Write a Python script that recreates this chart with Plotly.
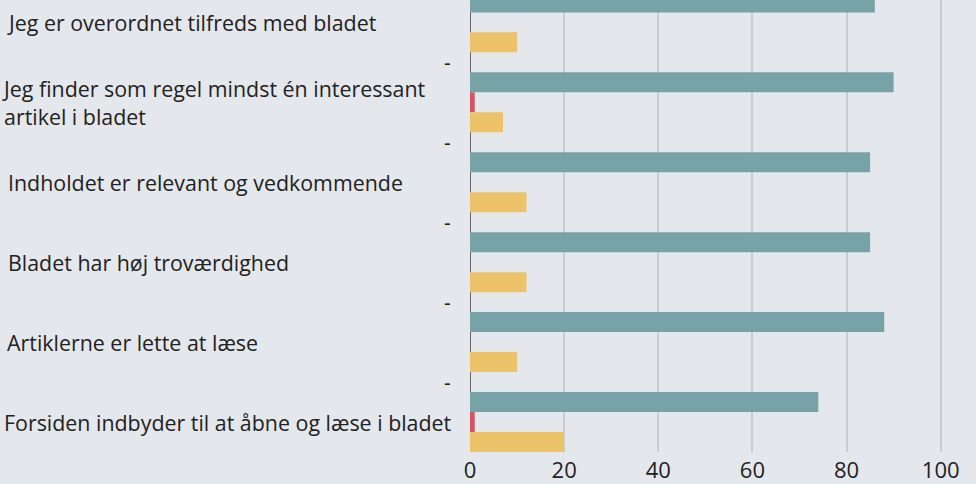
import plotly.graph_objects as go

categories = [
    "Jeg er overordnet tilfreds med bladet",
    "Jeg finder som regel mindst én interessant<br>artikel i bladet",
    "Indholdet er relevant og vedkommende",
    "Bladet har høj troværdighed",
    "Artiklerne er lette at læse",
    "Forsiden indbyder til at åbne og læse i bladet",
]
series_teal = [86, 90, 85, 85, 88, 74]
series_red = [0, 1, 0, 0, 0, 1]
series_yellow = [10, 7, 12, 12, 10, 20]
x_ticks = [0, 20, 40, 60, 80, 100]

label_px = [5, 0, 6, 6, 5, 2]  # left pixel of each label box

teal = "#77a3a8"
red = "#d65363"
yellow = "#ecc368"
bg = "#e4e7ec"

fig = go.Figure()
for vals, col in [(series_teal, teal), (series_red, red), (series_yellow, yellow)]:
    fig.add_trace(go.Bar(
        y=categories, x=vals, orientation="h",
        marker=dict(color=col, line=dict(width=0)),
        showlegend=False, hoverinfo="skip",
    ))

L, W = 470, 506
annotations = []
for i, (c, px) in enumerate(zip(categories, label_px)):
    annotations.append(dict(
        x=(px - L) / W, xref="paper", y=i, yref="y",
        text=c, showarrow=False, xanchor="left", yanchor="middle", align="left",
        font=dict(size=21.4, color="#222222", family="Open Sans"),
    ))
for i in range(len(categories) - 1):
    annotations.append(dict(
        x=(447.5 - L) / W, xref="paper", y=i + 0.5, yref="y",
        text="-", showarrow=False, xanchor="center", yanchor="middle",
        font=dict(size=21, color="#222222", family="Open Sans"),
    ))

fig.update_layout(
    width=976, height=484,
    margin=dict(l=L, r=0, t=0, b=32, pad=0, autoexpand=False),
    paper_bgcolor=bg, plot_bgcolor=bg,
    barmode="group", bargap=0.25, bargroupgap=0,
    annotations=annotations,
    font=dict(family="Open Sans", color="#222222"),
)
fig.update_xaxes(
    range=[0, 107.5], tickvals=x_ticks, ticktext=[str(t) for t in x_ticks],
    showgrid=True, gridcolor="#c9ccd0", gridwidth=2,
    zeroline=True, zerolinecolor="#666666", zerolinewidth=1,
    tickfont=dict(size=22, color="#222222", family="Open Sans"),
    showline=False, ticks="", ticklabelstandoff=3, automargin=False,
)
fig.update_yaxes(
    type="category", categoryorder="array", categoryarray=categories,
    range=[5.375, -0.28], showticklabels=False, showgrid=False, zeroline=False,
    ticks="", automargin=False,
)

fig.write_html(
    "out.html",
    config={"displayModeBar": False},
    post_script="document.body.style.margin='0';document.body.style.background='%s';" % bg,
)
